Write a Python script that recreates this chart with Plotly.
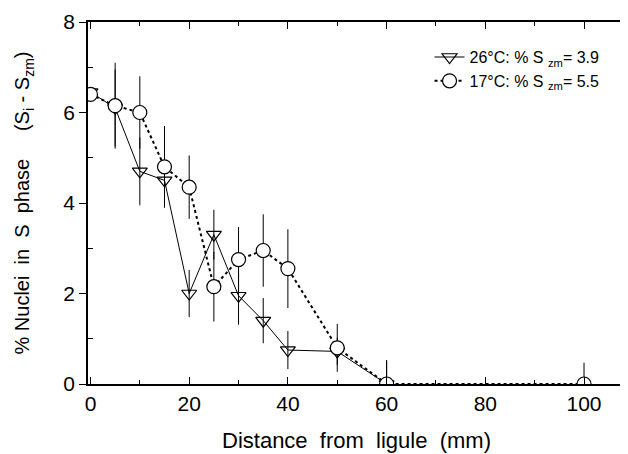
import plotly.graph_objects as go

# Data
dist_26 = [0, 5, 10, 15, 20, 25, 30, 35, 40, 50, 60]
val_26 = [6.45, 6.1, 4.7, 4.5, 2.0, 3.3, 1.95, 1.4, 0.75, 0.72, 0.0]
err_26 = [0, 0.85, 0.75, 0.6, 0.52, 0.55, 0.64, 0.5, 0.42, 0.3, 0.5]

dist_17 = [0, 5, 10, 15, 20, 25, 30, 35, 40, 50, 60, 100]
val_17 = [6.4, 6.15, 6.0, 4.8, 4.35, 2.15, 2.75, 2.95, 2.55, 0.8, 0.0, 0.0]
err_17 = [0, 0.95, 0.8, 0.9, 0.7, 0.77, 0.72, 0.8, 0.87, 0.53, 0.53, 0.47]

name_26 = "26°C: % S <sub>zm</sub>= 3.9"
name_17 = "17°C: % S <sub>zm</sub>= 5.5"

FONT = "Liberation Sans, Arial, sans-serif"

fig = go.Figure()
fig.add_trace(go.Scatter(
    x=dist_26, y=val_26, name=name_26, mode="lines+markers",
    line=dict(color="black", width=1),
    marker=dict(symbol="triangle-down-open", size=13, color="black", line=dict(width=1.2)),
    error_y=dict(type="data", array=err_26, color="black", thickness=1, width=0),
))
fig.add_trace(go.Scatter(
    x=dist_17, y=val_17, name=name_17, mode="lines+markers",
    line=dict(color="black", width=2, dash="dot"),
    marker=dict(symbol="circle", size=14, color="white", line=dict(color="black", width=1.2)),
    error_y=dict(type="data", array=err_17, color="black", thickness=1, width=0),
))

fig.update_layout(
    width=628, height=454,
    margin=dict(l=80, r=11, t=14, b=78, autoexpand=False),
    paper_bgcolor="white", plot_bgcolor="white",
    font=dict(family=FONT, color="black", size=20),
    showlegend=True,
    legend=dict(x=0.636, y=0.95, xanchor="left", yanchor="top",
                font=dict(size=16), bgcolor="rgba(0,0,0,0)",
                tracegroupgap=0, itemwidth=30),
)
fig.update_xaxes(
    range=[-0.5, 108.3], tickvals=[0, 20, 40, 60, 80, 100],
    showline=True, linecolor="black", linewidth=1.5, mirror="ticks",
    ticks="inside", ticklen=7, tickcolor="black", showgrid=False, zeroline=False,
    minor=dict(tickvals=[10, 30, 50, 70, 90], ticks="inside", ticklen=4, tickcolor="black"),
    title=dict(text="Distance  from  ligule  (mm)", standoff=19, font=dict(size=22)),
    tickfont=dict(size=21), automargin=False,
)
fig.update_yaxes(
    range=[0, 8], tickvals=[0, 2, 4, 6, 8],
    showline=True, linecolor="black", linewidth=1.5, mirror="ticks",
    ticks="outside", ticklen=7, tickcolor="black", showgrid=False, zeroline=False,
    minor=dict(tickvals=[1, 3, 5, 7], ticks="inside", ticklen=5, tickcolor="black"),
    title=dict(text="% Nuclei  in  S  phase     (S<sub>i</sub> - S<sub>zm</sub>)", standoff=28, font=dict(size=20)),
    tickfont=dict(size=21), automargin=False,
)

fig.write_html("out.html")
